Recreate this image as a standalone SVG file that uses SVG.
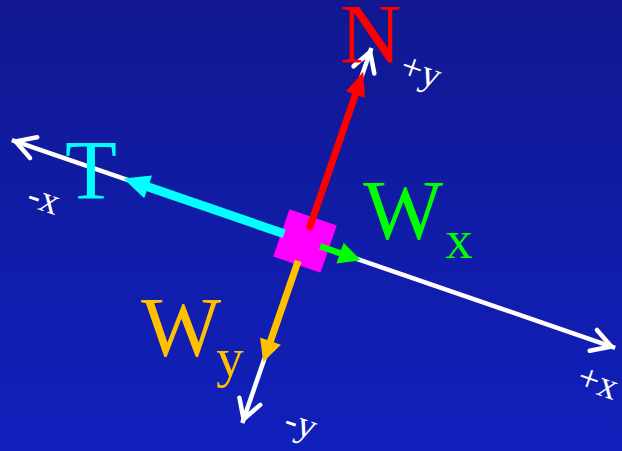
<svg xmlns="http://www.w3.org/2000/svg" width="622" height="451" viewBox="0 0 622 451">
  <defs>
    <linearGradient id="bg" x1="0" y1="0" x2="0" y2="1">
      <stop offset="0" stop-color="#111890"/>
      <stop offset="1" stop-color="#1120bc"/>
    </linearGradient>
    <marker id="chev" markerUnits="userSpaceOnUse" orient="auto-start-reverse" markerWidth="40" markerHeight="40" refX="0" refY="0" overflow="visible">
      <path d="M-23,-11 L-4,0 L-23,11" fill="none" stroke="#ffffff" stroke-width="4.5" stroke-linecap="round"/>
    </marker>
    <marker id="ah-red" markerUnits="userSpaceOnUse" orient="auto" markerWidth="40" markerHeight="40" refX="2" refY="0" overflow="visible">
      <path d="M0,-10 L24,0 L0,10 z" fill="#ff0000"/>
    </marker>
    <marker id="ah-cyan" markerUnits="userSpaceOnUse" orient="auto" markerWidth="40" markerHeight="40" refX="2" refY="0" overflow="visible">
      <path d="M0,-12 L26,0 L0,12 z" fill="#00ffff"/>
    </marker>
    <marker id="ah-green" markerUnits="userSpaceOnUse" orient="auto" markerWidth="40" markerHeight="40" refX="2" refY="0" overflow="visible">
      <path d="M0,-11 L22,0 L0,11 z" fill="#00ff00"/>
    </marker>
    <marker id="ah-orange" markerUnits="userSpaceOnUse" orient="auto" markerWidth="40" markerHeight="40" refX="2" refY="0" overflow="visible">
      <path d="M0,-11 L22,0 L0,11 z" fill="#ffc000"/>
    </marker>
  </defs>
  <style>
    .axis { stroke: #ffffff; stroke-width: 4.5; fill: none; marker-start: url(#chev); marker-end: url(#chev); }
    .force { fill: none; stroke-linecap: butt; }
    .big { font-family: "Liberation Serif", "Times New Roman", serif; font-size: 85px; }
    .sub { font-size: 55px; }
    .ax { font-family: "Liberation Serif", "Times New Roman", serif; font-size: 38px; fill: #ffffff; }
  </style>
  <rect x="0" y="0" width="622" height="451" fill="url(#bg)"/>

  <g id="axes">
    <line class="axis" x1="11.9" y1="140.1" x2="615.1" y2="347.8"/>
    <line class="axis" x1="242.3" y1="423" x2="371.4" y2="48.1"/>
  </g>

  <g id="box">
    <rect x="-25" y="-25" width="50" height="50" fill="#ff00ff" transform="translate(305,241) rotate(19)"/>
  </g>

  <g id="connectors">
    <line class="force" x1="308.9" y1="229.7" x2="356.1" y2="92.6" stroke="#ff0000" stroke-width="7" marker-end="url(#ah-red)"/>
    <line class="force" x1="284.2" y1="233.8" x2="146.2" y2="186.3" stroke="#00ffff" stroke-width="9" marker-end="url(#ah-cyan)"/>
    <line class="force" x1="320.1" y1="246.2" x2="341.9" y2="253.7" stroke="#00ff00" stroke-width="6.5" marker-end="url(#ah-green)"/>
    <line class="force" x1="298.2" y1="260.9" x2="269.8" y2="343.1" stroke="#ffc000" stroke-width="7" marker-end="url(#ah-orange)"/>
  </g>

  <g id="label-N"><text class="big" x="340" y="63" fill="#ff0000">N</text></g>
  <g id="label-T"><text class="big" x="65" y="199" fill="#00ffff">T</text></g>
  <g id="label-Wx"><text class="big" x="363" y="239" fill="#00ff00">W<tspan class="sub" dx="2" dy="19">x</tspan></text></g>
  <g id="label-Wy"><text class="big" x="141" y="356" fill="#ffc000">W<tspan class="sub" dx="-5" dy="20">y</tspan></text></g>

  <g id="axis-labels">
    <text class="ax" transform="translate(25,205) rotate(19)">-x</text>
    <text class="ax" transform="translate(575,387) rotate(19)">+x</text>
    <text class="ax" transform="translate(398,76) rotate(19)">+y</text>
    <text class="ax" transform="translate(282,430) rotate(19)">-y</text>
  </g>
</svg>
